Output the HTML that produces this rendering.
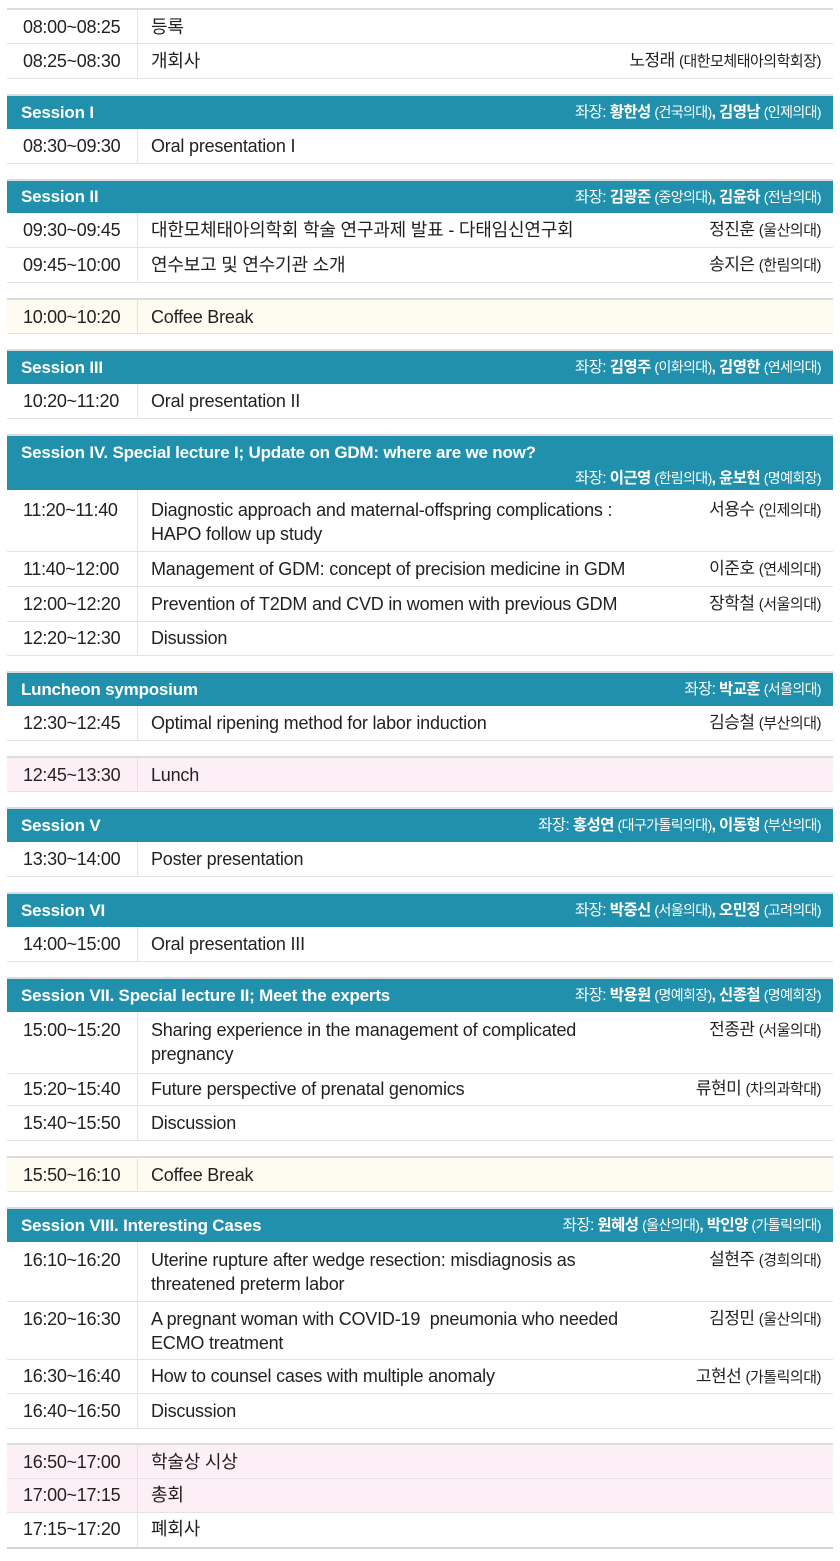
<!DOCTYPE html>
<html><head><meta charset="utf-8"><style>
body{margin:0;width:840px;height:1561px;background:#fff;position:relative;font-family:"Liberation Sans","Noto Sans CJK KR",sans-serif;color:#231f20;font-size:18px;overflow:hidden}
.r{position:absolute;left:7px;width:826px;border-bottom:1px solid #e3e3e3;box-sizing:border-box}
.t{position:absolute;left:0;top:0;bottom:0;width:131px;border-right:1px solid #e3e3e3;box-sizing:border-box;padding-left:16px;letter-spacing:-0.3px}
.c{position:absolute;left:144px;top:0;width:560px;letter-spacing:-0.2px}
.s{position:absolute;right:12px;top:0;white-space:nowrap;font-size:17px;letter-spacing:-0.5px}
.s small{font-size:15px;font-weight:normal}
.h small{font-size:14px;font-weight:normal}
.h{position:absolute;left:7px;width:826px;background:#2190ad;color:#fff;border-top:2px solid #dcdcdc;box-sizing:border-box}
.h .n{position:absolute;left:14px;font-weight:bold;font-size:17px;letter-spacing:-0.2px}
.h .s{font-weight:bold;font-size:15.5px;letter-spacing:-0.6px}
.top{border-top:2px solid #dcdcdc}
.y{background:#fefcf0}.p{background:#fcf0f6}
.k{font-weight:normal}
</style></head><body>

<div class="r top" style="top:8px;height:36px;line-height:34px"><div class="t">08:00~08:25</div><div class="c">등록</div></div>
<div class="r" style="top:44px;height:35px;line-height:34px"><div class="t">08:25~08:30</div><div class="c">개회사</div><div class="s">노정래 <small>(대한모체태아의학회장)</small></div></div>

<div class="h" style="top:94px;height:35px;line-height:33px"><div class="n">Session I</div><div class="s"><span class="k">좌장:</span> 황한성 <small>(건국의대)</small>, 김영남 <small>(인제의대)</small></div></div>
<div class="r" style="top:129px;height:35px;line-height:34px"><div class="t">08:30~09:30</div><div class="c">Oral presentation I</div></div>

<div class="h" style="top:179px;height:34px;line-height:32px"><div class="n">Session II</div><div class="s"><span class="k">좌장:</span> 김광준 <small>(중앙의대)</small>, 김윤하 <small>(전남의대)</small></div></div>
<div class="r" style="top:213px;height:35px;line-height:34px"><div class="t">09:30~09:45</div><div class="c">대한모체태아의학회 학술 연구과제 발표 - 다태임신연구회</div><div class="s">정진훈 <small>(울산의대)</small></div></div>
<div class="r" style="top:248px;height:35px;line-height:34px"><div class="t">09:45~10:00</div><div class="c">연수보고 및 연수기관 소개</div><div class="s">송지은 <small>(한림의대)</small></div></div>

<div class="r top y" style="top:298px;height:36px;line-height:34px"><div class="t">10:00~10:20</div><div class="c">Coffee Break</div></div>

<div class="h" style="top:349px;height:35px;line-height:33px"><div class="n">Session III</div><div class="s"><span class="k">좌장:</span> 김영주 <small>(이화의대)</small>, 김영한 <small>(연세의대)</small></div></div>
<div class="r" style="top:384px;height:35px;line-height:34px"><div class="t">10:20~11:20</div><div class="c">Oral presentation II</div></div>

<div class="h" style="top:434px;height:56px;line-height:24px"><div class="n" style="top:5px">Session IV. Special lecture I; Update on GDM: where are we now?</div><div class="s" style="top:30px"><span class="k">좌장:</span> 이근영 <small>(한림의대)</small>, 윤보현 <small>(명예회장)</small></div></div>
<div class="r" style="top:490px;height:62px;line-height:24px"><div class="t" style="padding-top:8px">11:20~11:40</div><div class="c" style="top:8px">Diagnostic approach and maternal-offspring complications :<br>HAPO follow up study</div><div class="s" style="top:8px">서용수 <small>(인제의대)</small></div></div>
<div class="r" style="top:552px;height:35px;line-height:34px"><div class="t">11:40~12:00</div><div class="c">Management of GDM: concept of precision medicine in GDM</div><div class="s">이준호 <small>(연세의대)</small></div></div>
<div class="r" style="top:587px;height:35px;line-height:34px"><div class="t">12:00~12:20</div><div class="c">Prevention of T2DM and CVD in women with previous GDM</div><div class="s">장학철 <small>(서울의대)</small></div></div>
<div class="r" style="top:622px;height:34px;line-height:33px"><div class="t">12:20~12:30</div><div class="c">Disussion</div></div>

<div class="h" style="top:671px;height:35px;line-height:33px"><div class="n">Luncheon symposium</div><div class="s"><span class="k">좌장:</span> 박교훈 <small>(서울의대)</small></div></div>
<div class="r" style="top:706px;height:35px;line-height:34px"><div class="t">12:30~12:45</div><div class="c">Optimal ripening method for labor induction</div><div class="s">김승철 <small>(부산의대)</small></div></div>

<div class="r top p" style="top:756px;height:36px;line-height:34px"><div class="t">12:45~13:30</div><div class="c">Lunch</div></div>

<div class="h" style="top:807px;height:35px;line-height:33px"><div class="n">Session V</div><div class="s"><span class="k">좌장:</span> 홍성연 <small>(대구가톨릭의대)</small>, 이동형 <small>(부산의대)</small></div></div>
<div class="r" style="top:842px;height:35px;line-height:34px"><div class="t">13:30~14:00</div><div class="c">Poster presentation</div></div>

<div class="h" style="top:892px;height:35px;line-height:33px"><div class="n">Session VI</div><div class="s"><span class="k">좌장:</span> 박중신 <small>(서울의대)</small>, 오민정 <small>(고려의대)</small></div></div>
<div class="r" style="top:927px;height:35px;line-height:34px"><div class="t">14:00~15:00</div><div class="c">Oral presentation III</div></div>

<div class="h" style="top:977px;height:35px;line-height:33px"><div class="n">Session VII. Special lecture II; Meet the experts</div><div class="s"><span class="k">좌장:</span> 박용원 <small>(명예회장)</small>, 신종철 <small>(명예회장)</small></div></div>
<div class="r" style="top:1012px;height:62px;line-height:24px"><div class="t" style="padding-top:6px">15:00~15:20</div><div class="c" style="top:6px">Sharing experience in the management of complicated<br>pregnancy</div><div class="s" style="top:6px">전종관 <small>(서울의대)</small></div></div>
<div class="r" style="top:1074px;height:32px;line-height:30px"><div class="t">15:20~15:40</div><div class="c">Future perspective of prenatal genomics</div><div class="s">류현미 <small>(차의과학대)</small></div></div>
<div class="r" style="top:1106px;height:35px;line-height:34px"><div class="t">15:40~15:50</div><div class="c">Discussion</div></div>

<div class="r top y" style="top:1156px;height:36px;line-height:34px"><div class="t">15:50~16:10</div><div class="c">Coffee Break</div></div>

<div class="h" style="top:1207px;height:35px;line-height:33px"><div class="n">Session VIII. Interesting Cases</div><div class="s"><span class="k">좌장:</span> 원혜성 <small>(울산의대)</small>, 박인양 <small>(가톨릭의대)</small></div></div>
<div class="r" style="top:1242px;height:60px;line-height:24px"><div class="t" style="padding-top:6px">16:10~16:20</div><div class="c" style="top:6px">Uterine rupture after wedge resection: misdiagnosis as<br>threatened preterm labor</div><div class="s" style="top:6px">설현주 <small>(경희의대)</small></div></div>
<div class="r" style="top:1302px;height:58px;line-height:24px"><div class="t" style="padding-top:5px">16:20~16:30</div><div class="c" style="top:5px">A pregnant woman with COVID-19&nbsp; pneumonia who needed<br>ECMO treatment</div><div class="s" style="top:5px">김정민 <small>(울산의대)</small></div></div>
<div class="r" style="top:1360px;height:34px;line-height:33px"><div class="t">16:30~16:40</div><div class="c">How to counsel cases with multiple anomaly</div><div class="s">고현선 <small>(가톨릭의대)</small></div></div>
<div class="r" style="top:1394px;height:35px;line-height:34px"><div class="t">16:40~16:50</div><div class="c">Discussion</div></div>

<div class="r top p" style="top:1443px;height:36px;line-height:34px"><div class="t">16:50~17:00</div><div class="c">학술상 시상</div></div>
<div class="r p" style="top:1479px;height:34px;line-height:33px"><div class="t">17:00~17:15</div><div class="c">총회</div></div>
<div class="r" style="top:1513px;height:36px;line-height:33px;border-bottom:2px solid #d4d4d4"><div class="t">17:15~17:20</div><div class="c">폐회사</div></div>

</body></html>
